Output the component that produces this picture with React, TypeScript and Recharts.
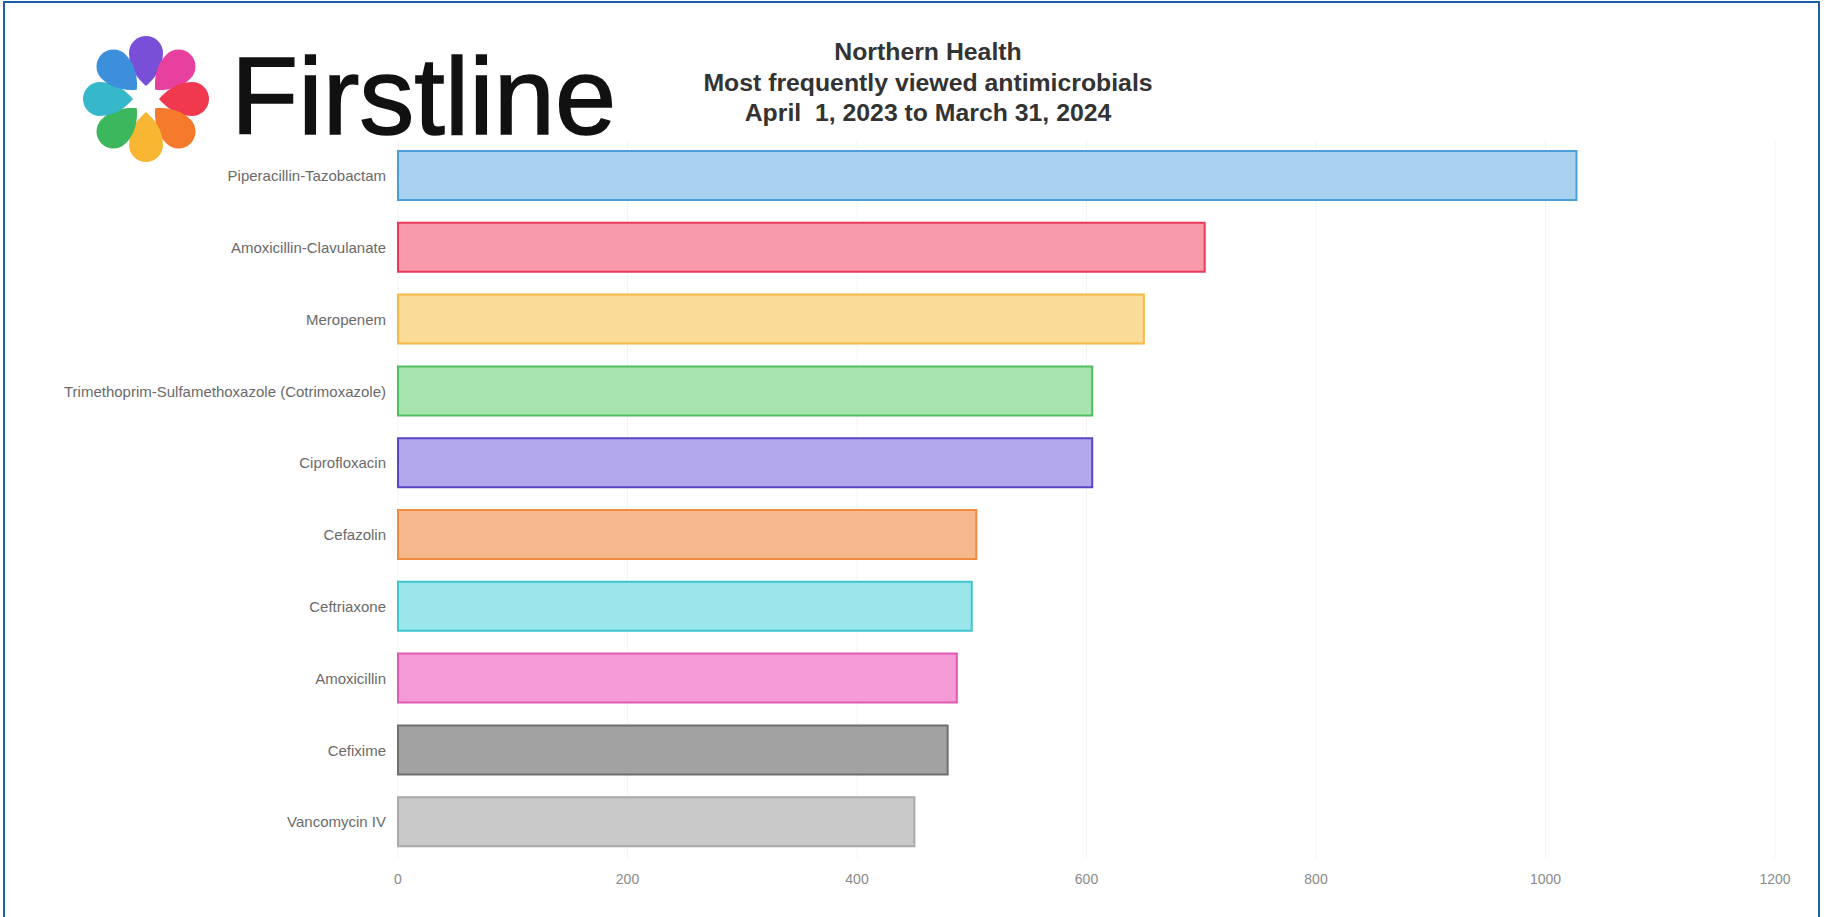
import React from "react";
import { BarChart, Bar, XAxis, YAxis, CartesianGrid, Cell } from "recharts";

const categories = [
  "Piperacillin-Tazobactam",
  "Amoxicillin-Clavulanate",
  "Meropenem",
  "Trimethoprim-Sulfamethoxazole (Cotrimoxazole)",
  "Ciprofloxacin",
  "Cefazolin",
  "Ceftriaxone",
  "Amoxicillin",
  "Cefixime",
  "Vancomycin IV",
];
const views = [1027, 703, 650, 605, 605, 504, 500, 487, 479, 450];
const fills = [
  "#a7d1ee", "#f89aa9", "#fadb97", "#a8e4b0", "#b4a8ec",
  "#f7b88b", "#9be6eb", "#f59bd7", "#a2a2a2", "#c9c9c9",
];
const strokes = [
  "#4b9fd9", "#e93a5c", "#f6ba45", "#50bd60", "#5d46c6",
  "#f08a40", "#3fc5cd", "#e05ab1", "#6f6f6f", "#a9a9a9",
];
const xTicks = [0, 200, 400, 600, 800, 1000, 1200];
const titleLines = [
  "Northern Health",
  "Most frequently viewed antimicrobials",
  "April  1, 2023 to March 31, 2024",
];
const petalColors = [
  "#7a4fd8", "#e8409e", "#f0384f", "#f57a2c",
  "#f9b633", "#3db75d", "#36b8ca", "#3c8fda",
];

const data = categories.map((name, i) => ({ name, value: views[i] }));

const font = "'Liberation Sans', Arial, sans-serif";

function Logo() {
  const petal = "M 0 -13 C -7 -19, -17 -30, -17 -46 A 17 17 0 0 1 17 -46 C 17 -30, 7 -19, 0 -13 Z";
  return (
    <svg width={240} height={180} style={{ position: "absolute", left: 26, top: 0 }}>
      <g transform="translate(120,99)">
        {petalColors.map((c, i) => (
          <path key={i} d={petal} fill={c} transform={`rotate(${i * 45})`} />
        ))}
      </g>
    </svg>
  );
}

export default function App() {
  return (
    <div
      style={{
        position: "absolute",
        left: 0,
        top: 0,
        width: 1825,
        height: 917,
        background: "#ffffff",
        overflow: "hidden",
        fontFamily: font,
      }}
    >
      <div
        style={{
          position: "absolute",
          left: 3,
          top: 1,
          width: 1813,
          height: 940,
          border: "2px solid #1f5ea8",
        }}
      />
      <div style={{ position: "absolute", left: 0, top: 0 }}>
        <BarChart
          width={1825}
          height={917}
          data={data}
          layout="vertical"
          margin={{ top: 140, right: 50, bottom: 29, left: 0 }}
        >
          <CartesianGrid horizontal={false} stroke="#f4f4f4" />
          <XAxis
            type="number"
            domain={[0, 1200]}
            ticks={xTicks}
            axisLine={false}
            tickLine={false}
            height={30}
            tickMargin={10}
            tick={{ fill: "#8a8a8a", fontSize: 14, fontFamily: font }}
          />
          <YAxis
            type="category"
            dataKey="name"
            width={398}
            axisLine={false}
            tickLine={false}
            tickMargin={6}
            interval={0}
            tick={{ fill: "#6a6a6a", fontSize: 15, fontFamily: font }}
          />
          <Bar dataKey="value" barSize={49} strokeWidth={2} isAnimationActive={false}>
            {data.map((d, i) => (
              <Cell key={d.name} fill={fills[i]} stroke={strokes[i]} />
            ))}
          </Bar>
        </BarChart>
      </div>
      <Logo />
      <div
        style={{
          position: "absolute",
          left: 231,
          top: 31,
          fontSize: 110,
          lineHeight: "130px",
          color: "#111111",
          fontFamily: font,
          WebkitTextStroke: "1.5px #111111",
        }}
      >
        Firstline
      </div>
      <div
        style={{
          position: "absolute",
          left: 628,
          top: 37,
          width: 600,
          textAlign: "center",
          fontSize: 24.8,
          lineHeight: "30.5px",
          fontWeight: "bold",
          color: "#333333",
          fontFamily: font,
          whiteSpace: "pre",
        }}
      >
        {titleLines.map((t) => (
          <div key={t}>{t}</div>
        ))}
      </div>
    </div>
  );
}
